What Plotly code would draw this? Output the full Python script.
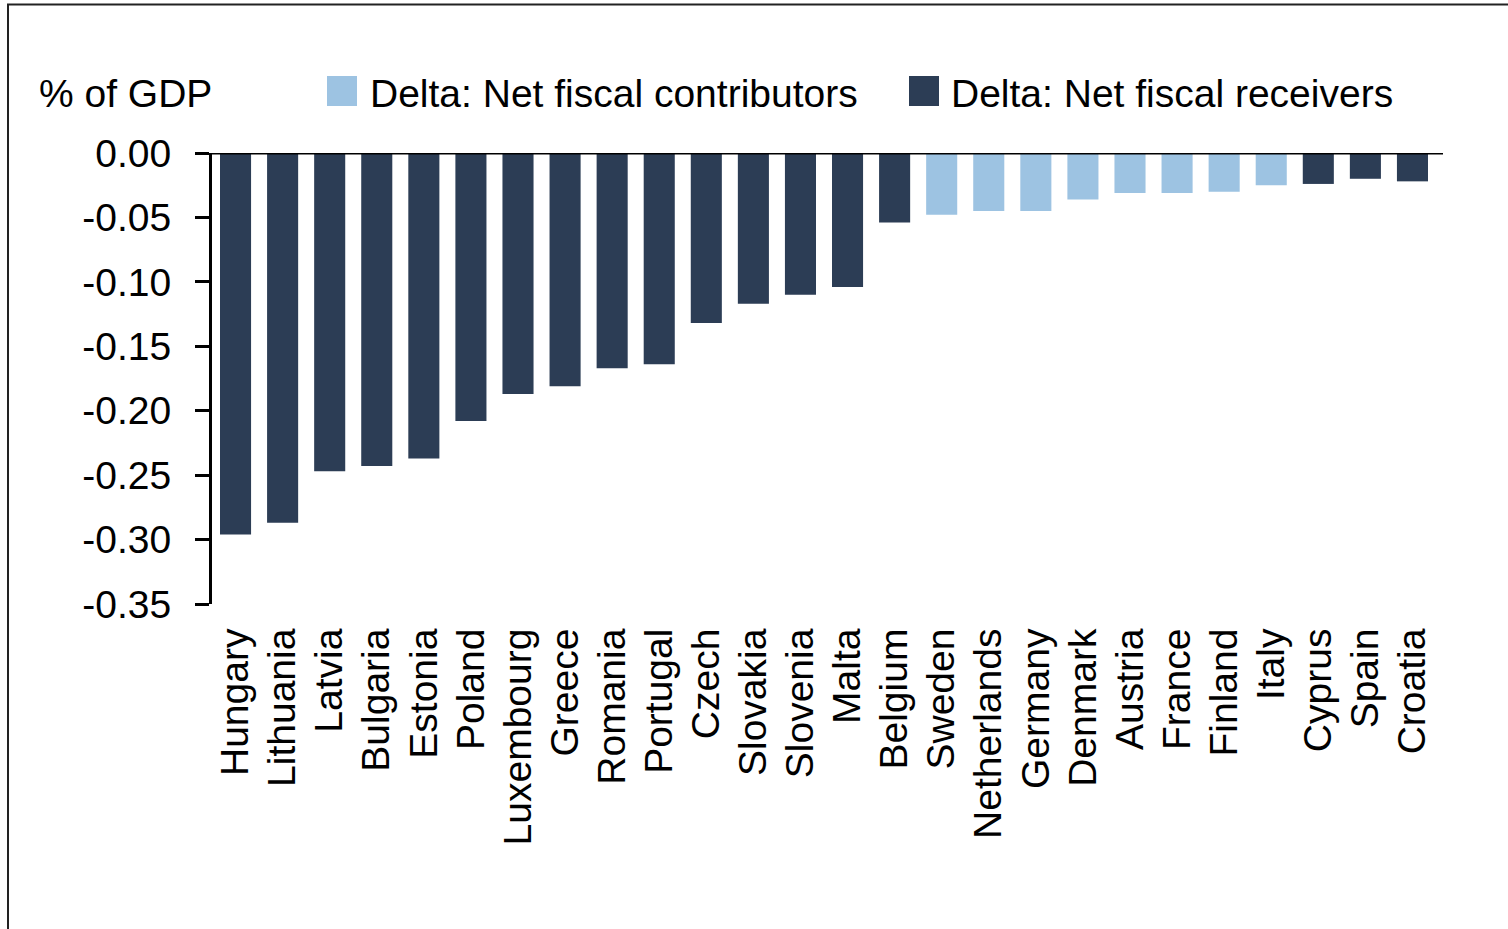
import plotly.graph_objects as go

countries = ["Hungary", "Lithuania", "Latvia", "Bulgaria", "Estonia", "Poland",
             "Luxembourg", "Greece", "Romania", "Portugal", "Czech", "Slovakia",
             "Slovenia", "Malta", "Belgium", "Sweden", "Netherlands", "Germany",
             "Denmark", "Austria", "France", "Finland", "Italy", "Cyprus", "Spain",
             "Croatia"]
values = [-0.296, -0.287, -0.247, -0.243, -0.237, -0.208,
          -0.187, -0.181, -0.167, -0.164, -0.132, -0.117,
          -0.110, -0.104, -0.054, -0.048, -0.045, -0.045,
          -0.036, -0.031, -0.031, -0.030, -0.025, -0.024, -0.020,
          -0.022]
groups = ["R", "R", "R", "R", "R", "R",
          "R", "R", "R", "R", "R", "R",
          "R", "R", "R", "C", "C", "C",
          "C", "C", "C", "C", "C", "R", "R",
          "R"]

series_names = {"C": "Delta: Net fiscal contributors", "R": "Delta: Net fiscal receivers"}
series_colors = {"C": "#9DC3E2", "R": "#2C3D55"}

tick_vals = [0.0, -0.05, -0.10, -0.15, -0.20, -0.25, -0.30, -0.35]
tick_text = ["0.00", "-0.05", "-0.10", "-0.15", "-0.20", "-0.25", "-0.30", "-0.35"]

FONT = "Liberation Sans, Arial, Helvetica, sans-serif"
FS = 39

fig = go.Figure()
for g in ["C", "R"]:
    fig.add_trace(go.Bar(
        x=countries,
        y=[v if gg == g else None for v, gg in zip(values, groups)],
        name=series_names[g],
        marker=dict(color=series_colors[g], line=dict(width=0)),
        showlegend=False,
    ))

W, H = 1508, 929
L, R, T, B = 212, 72, 153, 325
pw = W - L - R
ph = H - T - B

def px_x(x):
    return (x - L) / pw

def px_y(y):
    return 1 - (y - T) / ph

shapes = []
# outer border
shapes.append(dict(type="rect", xref="paper", yref="paper",
                   x0=px_x(8), x1=px_x(1512), y0=px_y(4.5), y1=px_y(935),
                   line=dict(color="#222222", width=2), fillcolor="rgba(0,0,0,0)"))
# zero line across the top of plot
shapes.append(dict(type="line", xref="paper", yref="y",
                   x0=px_x(197), x1=px_x(1443), y0=0, y1=0,
                   line=dict(color="black", width=3)))
# legend swatches
shapes.append(dict(type="rect", xref="paper", yref="paper",
                   x0=px_x(327), x1=px_x(357), y0=px_y(76), y1=px_y(106),
                   line=dict(width=0), fillcolor=series_colors["C"]))
shapes.append(dict(type="rect", xref="paper", yref="paper",
                   x0=px_x(909), x1=px_x(939), y0=px_y(76), y1=px_y(106),
                   line=dict(width=0), fillcolor=series_colors["R"]))

annotations = [
    dict(text="% of GDP", xref="paper", yref="paper", x=px_x(37), y=px_y(93),
         xanchor="left", yanchor="middle", showarrow=False,
         font=dict(family=FONT, size=FS, color="black")),
    dict(text=series_names["C"], xref="paper", yref="paper", x=px_x(368), y=px_y(93),
         xanchor="left", yanchor="middle", showarrow=False,
         font=dict(family=FONT, size=FS, color="black")),
    dict(text=series_names["R"], xref="paper", yref="paper", x=px_x(949), y=px_y(93),
         xanchor="left", yanchor="middle", showarrow=False,
         font=dict(family=FONT, size=FS, color="black")),
]

fig.update_layout(
    width=W, height=H,
    margin=dict(l=L, r=R, t=T, b=B, pad=0),
    paper_bgcolor="white", plot_bgcolor="white",
    barmode="overlay", bargap=0.34,
    font=dict(family=FONT, size=FS, color="black"),
    shapes=shapes, annotations=annotations,
    xaxis=dict(categoryorder="array", categoryarray=countries,
               tickangle=-90, showgrid=False, showline=False, zeroline=False,
               ticks="outside", ticklen=8, tickcolor="rgba(0,0,0,0)",
               tickfont=dict(family=FONT, size=FS, color="black")),
    yaxis=dict(range=[-0.35, 0.0], tickvals=tick_vals, ticktext=tick_text,
               showgrid=False, zeroline=False, showline=True, linecolor="black",
               linewidth=3, ticks="outside", ticklen=14, tickwidth=3, tickcolor="black",
               ticklabelstandoff=16,
               tickfont=dict(family=FONT, size=FS, color="black")),
)

fig.write_html("out.html",
               config={"displayModeBar": False},
               post_script="document.body.style.margin='0px';document.body.style.overflow='hidden';")
